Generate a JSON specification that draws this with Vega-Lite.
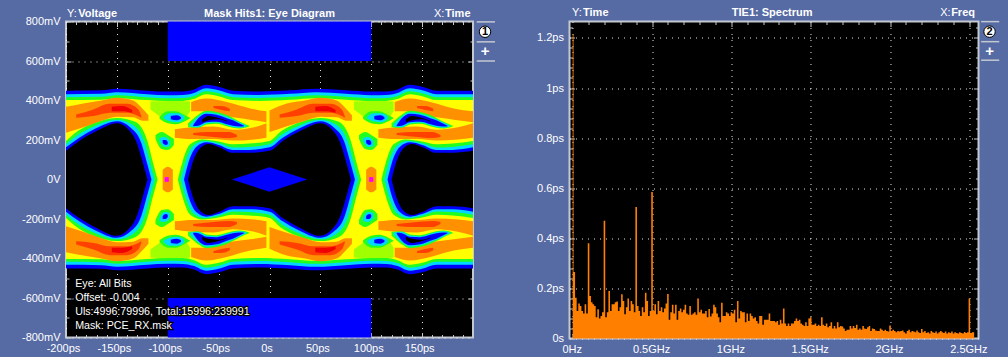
{"$schema":"https://vega.github.io/schema/vega-lite/v6.json","background":"#566aa4","padding":{"left":20,"top":5.5,"right":9,"bottom":2},"bounds":"flush","spacing":96.5,
"config":{"view":{"fill":"#000000","stroke":"#c4c8d0","strokeWidth":2},"font":"Liberation Sans","axis":{"labelColor":"#ffffff","labelFont":"Liberation Sans","labelFontSize":11,"title":null,"labelOverlap":false,"labelFlush":false,"domain":false,"tickColor":"#c4c8d0","zindex":1,"gridColor":"#ffffff","gridDash":[1,5],"gridOpacity":0.9}},
"datasets":{
"eye":[
{"s":1,"c":"B","t":-200,"a":-450,"b":450},{"s":1,"c":"B","t":-165,"a":-452,"b":452},{"s":1,"c":"B","t":-150,"a":-460,"b":460},{"s":1,"c":"B","t":-120,"a":-450,"b":450},{"s":1,"c":"B","t":-100,"a":-445,"b":445},{"s":1,"c":"B","t":-85,"a":-446,"b":446},{"s":1,"c":"B","t":-75,"a":-455,"b":455},{"s":1,"c":"B","t":-62,"a":-480,"b":480},{"s":1,"c":"B","t":-50,"a":-470,"b":470},{"s":1,"c":"B","t":-36,"a":-450,"b":450},{"s":1,"c":"B","t":-10,"a":-446,"b":446},{"s":1,"c":"B","t":20,"a":-452,"b":452},{"s":1,"c":"B","t":46,"a":-460,"b":460},{"s":1,"c":"B","t":75,"a":-452,"b":452},{"s":1,"c":"B","t":100,"a":-445,"b":445},{"s":1,"c":"B","t":115,"a":-446,"b":446},{"s":1,"c":"B","t":125,"a":-455,"b":455},{"s":1,"c":"B","t":138,"a":-480,"b":480},{"s":1,"c":"B","t":150,"a":-470,"b":470},{"s":1,"c":"B","t":164,"a":-450,"b":450},{"s":1,"c":"B","t":200,"a":-450,"b":450},
{"s":2,"c":"C","t":-200,"a":-432,"b":432},{"s":2,"c":"C","t":-165,"a":-434,"b":434},{"s":2,"c":"C","t":-150,"a":-442,"b":442},{"s":2,"c":"C","t":-120,"a":-432,"b":432},{"s":2,"c":"C","t":-100,"a":-427,"b":427},{"s":2,"c":"C","t":-85,"a":-428,"b":428},{"s":2,"c":"C","t":-75,"a":-437,"b":437},{"s":2,"c":"C","t":-62,"a":-462,"b":462},{"s":2,"c":"C","t":-50,"a":-452,"b":452},{"s":2,"c":"C","t":-36,"a":-432,"b":432},{"s":2,"c":"C","t":-10,"a":-428,"b":428},{"s":2,"c":"C","t":20,"a":-434,"b":434},{"s":2,"c":"C","t":46,"a":-442,"b":442},{"s":2,"c":"C","t":75,"a":-434,"b":434},{"s":2,"c":"C","t":100,"a":-427,"b":427},{"s":2,"c":"C","t":115,"a":-428,"b":428},{"s":2,"c":"C","t":125,"a":-437,"b":437},{"s":2,"c":"C","t":138,"a":-462,"b":462},{"s":2,"c":"C","t":150,"a":-452,"b":452},{"s":2,"c":"C","t":164,"a":-432,"b":432},{"s":2,"c":"C","t":200,"a":-432,"b":432},
{"s":3,"c":"G","t":-200,"a":-417,"b":417},{"s":3,"c":"G","t":-165,"a":-419,"b":419},{"s":3,"c":"G","t":-150,"a":-427,"b":427},{"s":3,"c":"G","t":-120,"a":-417,"b":417},{"s":3,"c":"G","t":-100,"a":-412,"b":412},{"s":3,"c":"G","t":-85,"a":-413,"b":413},{"s":3,"c":"G","t":-75,"a":-422,"b":422},{"s":3,"c":"G","t":-62,"a":-447,"b":447},{"s":3,"c":"G","t":-50,"a":-437,"b":437},{"s":3,"c":"G","t":-36,"a":-417,"b":417},{"s":3,"c":"G","t":-10,"a":-413,"b":413},{"s":3,"c":"G","t":20,"a":-419,"b":419},{"s":3,"c":"G","t":46,"a":-427,"b":427},{"s":3,"c":"G","t":75,"a":-419,"b":419},{"s":3,"c":"G","t":100,"a":-412,"b":412},{"s":3,"c":"G","t":115,"a":-413,"b":413},{"s":3,"c":"G","t":125,"a":-422,"b":422},{"s":3,"c":"G","t":138,"a":-447,"b":447},{"s":3,"c":"G","t":150,"a":-437,"b":437},{"s":3,"c":"G","t":164,"a":-417,"b":417},{"s":3,"c":"G","t":200,"a":-417,"b":417},
{"s":4,"c":"Y","t":-200,"a":-402,"b":402},{"s":4,"c":"Y","t":-165,"a":-404,"b":404},{"s":4,"c":"Y","t":-150,"a":-412,"b":412},{"s":4,"c":"Y","t":-120,"a":-402,"b":402},{"s":4,"c":"Y","t":-100,"a":-397,"b":397},{"s":4,"c":"Y","t":-85,"a":-398,"b":398},{"s":4,"c":"Y","t":-75,"a":-407,"b":407},{"s":4,"c":"Y","t":-62,"a":-432,"b":432},{"s":4,"c":"Y","t":-50,"a":-422,"b":422},{"s":4,"c":"Y","t":-36,"a":-402,"b":402},{"s":4,"c":"Y","t":-10,"a":-398,"b":398},{"s":4,"c":"Y","t":20,"a":-404,"b":404},{"s":4,"c":"Y","t":46,"a":-412,"b":412},{"s":4,"c":"Y","t":75,"a":-404,"b":404},{"s":4,"c":"Y","t":100,"a":-397,"b":397},{"s":4,"c":"Y","t":115,"a":-398,"b":398},{"s":4,"c":"Y","t":125,"a":-407,"b":407},{"s":4,"c":"Y","t":138,"a":-432,"b":432},{"s":4,"c":"Y","t":150,"a":-422,"b":422},{"s":4,"c":"Y","t":164,"a":-402,"b":402},{"s":4,"c":"Y","t":200,"a":-402,"b":402},
{"s":5,"c":"G","t":-200,"a":-195,"b":195},{"s":5,"c":"G","t":-189,"a":-243,"b":243},{"s":5,"c":"G","t":-173,"a":-285,"b":285},{"s":5,"c":"G","t":-150,"a":-312,"b":312},{"s":5,"c":"G","t":-132,"a":-292,"b":292},{"s":5,"c":"G","t":-120,"a":-195,"b":195},{"s":5,"c":"G","t":-115,"a":-95,"b":95},{"s":5,"c":"G","t":-110,"a":0,"b":0},
{"s":6,"c":"G","t":-90,"a":0,"b":0},{"s":6,"c":"G","t":-86,"a":-80,"b":80},{"s":6,"c":"G","t":-78,"a":-178,"b":178},{"s":6,"c":"G","t":-66,"a":-202,"b":202},{"s":6,"c":"G","t":-50,"a":-192,"b":192},{"s":6,"c":"G","t":-36,"a":-178,"b":178},{"s":6,"c":"G","t":-20,"a":-182,"b":182},{"s":6,"c":"G","t":0,"a":-195,"b":195},{"s":6,"c":"G","t":11,"a":-243,"b":243},{"s":6,"c":"G","t":27,"a":-285,"b":285},{"s":6,"c":"G","t":50,"a":-312,"b":312},{"s":6,"c":"G","t":68,"a":-292,"b":292},{"s":6,"c":"G","t":80,"a":-195,"b":195},{"s":6,"c":"G","t":85,"a":-95,"b":95},{"s":6,"c":"G","t":90,"a":0,"b":0},
{"s":7,"c":"G","t":110,"a":0,"b":0},{"s":7,"c":"G","t":114,"a":-80,"b":80},{"s":7,"c":"G","t":122,"a":-178,"b":178},{"s":7,"c":"G","t":134,"a":-202,"b":202},{"s":7,"c":"G","t":150,"a":-192,"b":192},{"s":7,"c":"G","t":164,"a":-178,"b":178},{"s":7,"c":"G","t":180,"a":-182,"b":182},{"s":7,"c":"G","t":200,"a":-195,"b":195},
{"s":8,"c":"C","t":-200,"a":-178,"b":178},{"s":8,"c":"C","t":-188,"a":-226,"b":226},{"s":8,"c":"C","t":-172,"a":-270,"b":270},{"s":8,"c":"C","t":-150,"a":-303,"b":303},{"s":8,"c":"C","t":-135,"a":-278,"b":278},{"s":8,"c":"C","t":-123,"a":-190,"b":190},{"s":8,"c":"C","t":-118,"a":-95,"b":95},{"s":8,"c":"C","t":-113,"a":0,"b":0},
{"s":9,"c":"C","t":-87,"a":0,"b":0},{"s":9,"c":"C","t":-83,"a":-80,"b":80},{"s":9,"c":"C","t":-75,"a":-170,"b":170},{"s":9,"c":"C","t":-64,"a":-195,"b":195},{"s":9,"c":"C","t":-50,"a":-183,"b":183},{"s":9,"c":"C","t":-36,"a":-162,"b":162},{"s":9,"c":"C","t":-20,"a":-165,"b":165},{"s":9,"c":"C","t":0,"a":-178,"b":178},{"s":9,"c":"C","t":12,"a":-226,"b":226},{"s":9,"c":"C","t":28,"a":-270,"b":270},{"s":9,"c":"C","t":50,"a":-303,"b":303},{"s":9,"c":"C","t":65,"a":-278,"b":278},{"s":9,"c":"C","t":77,"a":-190,"b":190},{"s":9,"c":"C","t":82,"a":-95,"b":95},{"s":9,"c":"C","t":87,"a":0,"b":0},
{"s":10,"c":"C","t":113,"a":0,"b":0},{"s":10,"c":"C","t":117,"a":-80,"b":80},{"s":10,"c":"C","t":125,"a":-170,"b":170},{"s":10,"c":"C","t":136,"a":-195,"b":195},{"s":10,"c":"C","t":150,"a":-183,"b":183},{"s":10,"c":"C","t":164,"a":-162,"b":162},{"s":10,"c":"C","t":180,"a":-165,"b":165},{"s":10,"c":"C","t":200,"a":-178,"b":178},
{"s":11,"c":"B","t":-200,"a":-163,"b":163},{"s":11,"c":"B","t":-187,"a":-212,"b":212},{"s":11,"c":"B","t":-171,"a":-258,"b":258},{"s":11,"c":"B","t":-150,"a":-295,"b":295},{"s":11,"c":"B","t":-137,"a":-265,"b":265},{"s":11,"c":"B","t":-126,"a":-185,"b":185},{"s":11,"c":"B","t":-121,"a":-95,"b":95},{"s":11,"c":"B","t":-116,"a":0,"b":0},
{"s":12,"c":"B","t":-84,"a":0,"b":0},{"s":12,"c":"B","t":-80,"a":-80,"b":80},{"s":12,"c":"B","t":-72,"a":-165,"b":165},{"s":12,"c":"B","t":-62,"a":-188,"b":188},{"s":12,"c":"B","t":-50,"a":-175,"b":175},{"s":12,"c":"B","t":-36,"a":-150,"b":150},{"s":12,"c":"B","t":-20,"a":-150,"b":150},{"s":12,"c":"B","t":0,"a":-163,"b":163},{"s":12,"c":"B","t":13,"a":-212,"b":212},{"s":12,"c":"B","t":29,"a":-258,"b":258},{"s":12,"c":"B","t":50,"a":-295,"b":295},{"s":12,"c":"B","t":63,"a":-265,"b":265},{"s":12,"c":"B","t":74,"a":-185,"b":185},{"s":12,"c":"B","t":79,"a":-95,"b":95},{"s":12,"c":"B","t":84,"a":0,"b":0},
{"s":13,"c":"B","t":116,"a":0,"b":0},{"s":13,"c":"B","t":120,"a":-80,"b":80},{"s":13,"c":"B","t":128,"a":-165,"b":165},{"s":13,"c":"B","t":138,"a":-188,"b":188},{"s":13,"c":"B","t":150,"a":-175,"b":175},{"s":13,"c":"B","t":164,"a":-150,"b":150},{"s":13,"c":"B","t":180,"a":-150,"b":150},{"s":13,"c":"B","t":200,"a":-163,"b":163},
{"s":14,"c":"K","t":-200,"a":-145,"b":145},{"s":14,"c":"K","t":-187,"a":-195,"b":195},{"s":14,"c":"K","t":-170,"a":-245,"b":245},{"s":14,"c":"K","t":-150,"a":-285,"b":285},{"s":14,"c":"K","t":-139,"a":-255,"b":255},{"s":14,"c":"K","t":-130,"a":-180,"b":180},{"s":14,"c":"K","t":-125,"a":-95,"b":95},{"s":14,"c":"K","t":-120,"a":0,"b":0},
{"s":15,"c":"K","t":-80,"a":0,"b":0},{"s":15,"c":"K","t":-76,"a":-78,"b":78},{"s":15,"c":"K","t":-68,"a":-160,"b":160},{"s":15,"c":"K","t":-60,"a":-180,"b":180},{"s":15,"c":"K","t":-50,"a":-165,"b":165},{"s":15,"c":"K","t":-36,"a":-135,"b":135},{"s":15,"c":"K","t":-20,"a":-135,"b":135},{"s":15,"c":"K","t":0,"a":-145,"b":145},{"s":15,"c":"K","t":13,"a":-195,"b":195},{"s":15,"c":"K","t":30,"a":-245,"b":245},{"s":15,"c":"K","t":50,"a":-285,"b":285},{"s":15,"c":"K","t":61,"a":-255,"b":255},{"s":15,"c":"K","t":70,"a":-180,"b":180},{"s":15,"c":"K","t":75,"a":-95,"b":95},{"s":15,"c":"K","t":80,"a":0,"b":0},
{"s":16,"c":"K","t":120,"a":0,"b":0},{"s":16,"c":"K","t":124,"a":-78,"b":78},{"s":16,"c":"K","t":132,"a":-160,"b":160},{"s":16,"c":"K","t":140,"a":-180,"b":180},{"s":16,"c":"K","t":150,"a":-165,"b":165},{"s":16,"c":"K","t":164,"a":-135,"b":135},{"s":16,"c":"K","t":180,"a":-135,"b":135},{"s":16,"c":"K","t":200,"a":-145,"b":145},
{"s":17,"c":"L","t":-117,"a":355,"b":395},{"s":17,"c":"L","t":-100,"a":300,"b":398},{"s":17,"c":"L","t":-88,"a":290,"b":398},{"s":17,"c":"L","t":-78,"a":345,"b":395},
{"s":18,"c":"L","t":-117,"a":-395,"b":-355},{"s":18,"c":"L","t":-100,"a":-398,"b":-300},{"s":18,"c":"L","t":-88,"a":-398,"b":-290},{"s":18,"c":"L","t":-78,"a":-395,"b":-345},
{"s":19,"c":"L","t":83,"a":355,"b":395},{"s":19,"c":"L","t":100,"a":300,"b":398},{"s":19,"c":"L","t":112,"a":290,"b":398},{"s":19,"c":"L","t":122,"a":345,"b":395},
{"s":20,"c":"L","t":83,"a":-395,"b":-355},{"s":20,"c":"L","t":100,"a":-398,"b":-300},{"s":20,"c":"L","t":112,"a":-398,"b":-290},{"s":20,"c":"L","t":122,"a":-395,"b":-345},
{"s":21,"c":"O","t":-200,"a":237,"b":368},{"s":21,"c":"O","t":-183,"a":265,"b":385},{"s":21,"c":"O","t":-165,"a":298,"b":400},{"s":21,"c":"O","t":-150,"a":318,"b":414},{"s":21,"c":"O","t":-134,"a":315,"b":400},{"s":21,"c":"O","t":-125,"a":298,"b":360},{"s":21,"c":"O","t":-119,"a":298,"b":325},
{"s":22,"c":"O","t":0,"a":240,"b":350},{"s":22,"c":"O","t":17,"a":270,"b":385},{"s":22,"c":"O","t":35,"a":298,"b":400},{"s":22,"c":"O","t":50,"a":318,"b":414},{"s":22,"c":"O","t":66,"a":315,"b":400},{"s":22,"c":"O","t":75,"a":298,"b":360},{"s":22,"c":"O","t":81,"a":298,"b":325},
{"s":23,"c":"O","t":-200,"a":-368,"b":-237},{"s":23,"c":"O","t":-183,"a":-385,"b":-265},{"s":23,"c":"O","t":-165,"a":-400,"b":-298},{"s":23,"c":"O","t":-150,"a":-414,"b":-318},{"s":23,"c":"O","t":-134,"a":-400,"b":-315},{"s":23,"c":"O","t":-125,"a":-360,"b":-298},{"s":23,"c":"O","t":-119,"a":-325,"b":-298},
{"s":24,"c":"O","t":0,"a":-350,"b":-240},{"s":24,"c":"O","t":17,"a":-385,"b":-270},{"s":24,"c":"O","t":35,"a":-400,"b":-298},{"s":24,"c":"O","t":50,"a":-414,"b":-318},{"s":24,"c":"O","t":66,"a":-400,"b":-315},{"s":24,"c":"O","t":75,"a":-360,"b":-298},{"s":24,"c":"O","t":81,"a":-325,"b":-298},
{"s":25,"c":"O","t":-77,"a":345,"b":392},{"s":25,"c":"O","t":-62,"a":345,"b":410},{"s":25,"c":"O","t":-42,"a":320,"b":392},{"s":25,"c":"O","t":-19,"a":303,"b":360},{"s":25,"c":"O","t":-3,"a":290,"b":345},
{"s":26,"c":"O","t":123,"a":345,"b":392},{"s":26,"c":"O","t":138,"a":345,"b":410},{"s":26,"c":"O","t":158,"a":320,"b":392},{"s":26,"c":"O","t":181,"a":303,"b":360},{"s":26,"c":"O","t":200,"a":290,"b":345},
{"s":27,"c":"O","t":-77,"a":-392,"b":-345},{"s":27,"c":"O","t":-62,"a":-410,"b":-345},{"s":27,"c":"O","t":-42,"a":-392,"b":-320},{"s":27,"c":"O","t":-19,"a":-360,"b":-303},{"s":27,"c":"O","t":-3,"a":-345,"b":-290},
{"s":28,"c":"O","t":123,"a":-392,"b":-345},{"s":28,"c":"O","t":138,"a":-410,"b":-345},{"s":28,"c":"O","t":158,"a":-392,"b":-320},{"s":28,"c":"O","t":181,"a":-360,"b":-303},{"s":28,"c":"O","t":200,"a":-345,"b":-290},
{"s":29,"c":"O","t":-93,"a":212,"b":255},{"s":29,"c":"O","t":-75,"a":205,"b":265},{"s":29,"c":"O","t":-55,"a":205,"b":268},{"s":29,"c":"O","t":-36,"a":197,"b":252},{"s":29,"c":"O","t":-15,"a":203,"b":265},{"s":29,"c":"O","t":-3,"a":212,"b":285},
{"s":30,"c":"O","t":107,"a":212,"b":255},{"s":30,"c":"O","t":125,"a":205,"b":265},{"s":30,"c":"O","t":145,"a":205,"b":268},{"s":30,"c":"O","t":164,"a":197,"b":252},{"s":30,"c":"O","t":185,"a":203,"b":265},{"s":30,"c":"O","t":200,"a":212,"b":285},
{"s":31,"c":"O","t":-93,"a":-255,"b":-212},{"s":31,"c":"O","t":-75,"a":-265,"b":-205},{"s":31,"c":"O","t":-55,"a":-268,"b":-205},{"s":31,"c":"O","t":-36,"a":-252,"b":-197},{"s":31,"c":"O","t":-15,"a":-265,"b":-203},{"s":31,"c":"O","t":-3,"a":-285,"b":-212},
{"s":32,"c":"O","t":107,"a":-255,"b":-212},{"s":32,"c":"O","t":125,"a":-265,"b":-205},{"s":32,"c":"O","t":145,"a":-268,"b":-205},{"s":32,"c":"O","t":164,"a":-252,"b":-197},{"s":32,"c":"O","t":185,"a":-265,"b":-203},{"s":32,"c":"O","t":200,"a":-285,"b":-212},
{"s":33,"c":"D","t":-190,"a":313,"b":329},{"s":33,"c":"D","t":-173,"a":321,"b":355},{"s":33,"c":"D","t":-157,"a":338,"b":383},{"s":33,"c":"D","t":-140,"a":338,"b":383},{"s":33,"c":"D","t":-129,"a":321,"b":355},{"s":33,"c":"D","t":-126,"a":313,"b":321},
{"s":34,"c":"D","t":10,"a":313,"b":329},{"s":34,"c":"D","t":27,"a":321,"b":355},{"s":34,"c":"D","t":43,"a":338,"b":383},{"s":34,"c":"D","t":60,"a":338,"b":383},{"s":34,"c":"D","t":71,"a":321,"b":355},{"s":34,"c":"D","t":74,"a":313,"b":321},
{"s":35,"c":"D","t":-190,"a":-329,"b":-313},{"s":35,"c":"D","t":-173,"a":-355,"b":-321},{"s":35,"c":"D","t":-157,"a":-383,"b":-338},{"s":35,"c":"D","t":-140,"a":-383,"b":-338},{"s":35,"c":"D","t":-129,"a":-355,"b":-321},{"s":35,"c":"D","t":-126,"a":-321,"b":-313},
{"s":36,"c":"D","t":10,"a":-329,"b":-313},{"s":36,"c":"D","t":27,"a":-355,"b":-321},{"s":36,"c":"D","t":43,"a":-383,"b":-338},{"s":36,"c":"D","t":60,"a":-383,"b":-338},{"s":36,"c":"D","t":71,"a":-355,"b":-321},{"s":36,"c":"D","t":74,"a":-321,"b":-313},
{"s":37,"c":"D","t":-75,"a":225,"b":235},{"s":37,"c":"D","t":-60,"a":218,"b":240},{"s":37,"c":"D","t":-40,"a":210,"b":240},{"s":37,"c":"D","t":-32,"a":215,"b":225},
{"s":38,"c":"D","t":125,"a":225,"b":235},{"s":38,"c":"D","t":140,"a":218,"b":240},{"s":38,"c":"D","t":160,"a":210,"b":240},{"s":38,"c":"D","t":168,"a":215,"b":225},
{"s":39,"c":"D","t":-75,"a":-235,"b":-225},{"s":39,"c":"D","t":-60,"a":-240,"b":-218},{"s":39,"c":"D","t":-40,"a":-240,"b":-210},{"s":39,"c":"D","t":-32,"a":-225,"b":-215},
{"s":40,"c":"D","t":125,"a":-235,"b":-225},{"s":40,"c":"D","t":140,"a":-240,"b":-218},{"s":40,"c":"D","t":160,"a":-240,"b":-210},{"s":40,"c":"D","t":168,"a":-225,"b":-215},
{"s":41,"c":"D","t":-55,"a":362,"b":372},{"s":41,"c":"D","t":-47,"a":352,"b":372},{"s":41,"c":"D","t":-39,"a":346,"b":358},
{"s":42,"c":"D","t":145,"a":362,"b":372},{"s":42,"c":"D","t":153,"a":352,"b":372},{"s":42,"c":"D","t":161,"a":346,"b":358},
{"s":43,"c":"D","t":-55,"a":-372,"b":-362},{"s":43,"c":"D","t":-47,"a":-372,"b":-352},{"s":43,"c":"D","t":-39,"a":-358,"b":-346},
{"s":44,"c":"D","t":145,"a":-372,"b":-362},{"s":44,"c":"D","t":153,"a":-372,"b":-352},{"s":44,"c":"D","t":161,"a":-358,"b":-346},
{"s":45,"c":"R","t":-155,"a":345,"b":368},{"s":45,"c":"R","t":-145,"a":345,"b":372},{"s":45,"c":"R","t":-135,"a":338,"b":352},
{"s":46,"c":"R","t":45,"a":345,"b":368},{"s":46,"c":"R","t":55,"a":345,"b":372},{"s":46,"c":"R","t":65,"a":338,"b":352},
{"s":47,"c":"R","t":-155,"a":-368,"b":-345},{"s":47,"c":"R","t":-145,"a":-372,"b":-345},{"s":47,"c":"R","t":-135,"a":-352,"b":-338},
{"s":48,"c":"R","t":45,"a":-368,"b":-345},{"s":48,"c":"R","t":55,"a":-372,"b":-345},{"s":48,"c":"R","t":65,"a":-352,"b":-338},
{"s":49,"c":"G","t":-80,"a":265,"b":285},{"s":49,"c":"G","t":-70,"a":262,"b":328},{"s":49,"c":"G","t":-62,"a":278,"b":348},{"s":49,"c":"G","t":-52,"a":282,"b":342},{"s":49,"c":"G","t":-42,"a":270,"b":326},{"s":49,"c":"G","t":-36,"a":262,"b":312},{"s":49,"c":"G","t":-29,"a":258,"b":292},{"s":49,"c":"G","t":-20,"a":268,"b":272},
{"s":50,"c":"C","t":-78,"a":268,"b":278},{"s":50,"c":"C","t":-70,"a":265,"b":318},{"s":50,"c":"C","t":-62,"a":284,"b":340},{"s":50,"c":"C","t":-52,"a":288,"b":334},{"s":50,"c":"C","t":-42,"a":275,"b":318},{"s":50,"c":"C","t":-36,"a":266,"b":305},{"s":50,"c":"C","t":-29,"a":262,"b":288},{"s":50,"c":"C","t":-23,"a":268,"b":274},
{"s":51,"c":"B","t":-75,"a":270,"b":275},{"s":51,"c":"B","t":-70,"a":272,"b":310},{"s":51,"c":"B","t":-62,"a":290,"b":333},{"s":51,"c":"B","t":-52,"a":292,"b":328},{"s":51,"c":"B","t":-42,"a":280,"b":310},{"s":51,"c":"B","t":-36,"a":272,"b":300},{"s":51,"c":"B","t":-29,"a":268,"b":282},{"s":51,"c":"B","t":-25,"a":270,"b":272},
{"s":52,"c":"K","t":-66,"a":288,"b":305},{"s":52,"c":"K","t":-60,"a":300,"b":322},{"s":52,"c":"K","t":-50,"a":305,"b":312},{"s":52,"c":"K","t":-42,"a":292,"b":298},
{"s":53,"c":"G","t":120,"a":265,"b":285},{"s":53,"c":"G","t":130,"a":262,"b":328},{"s":53,"c":"G","t":138,"a":278,"b":348},{"s":53,"c":"G","t":148,"a":282,"b":342},{"s":53,"c":"G","t":158,"a":270,"b":326},{"s":53,"c":"G","t":164,"a":262,"b":312},{"s":53,"c":"G","t":171,"a":258,"b":292},{"s":53,"c":"G","t":180,"a":268,"b":272},
{"s":54,"c":"C","t":122,"a":268,"b":278},{"s":54,"c":"C","t":130,"a":265,"b":318},{"s":54,"c":"C","t":138,"a":284,"b":340},{"s":54,"c":"C","t":148,"a":288,"b":334},{"s":54,"c":"C","t":158,"a":275,"b":318},{"s":54,"c":"C","t":164,"a":266,"b":305},{"s":54,"c":"C","t":171,"a":262,"b":288},{"s":54,"c":"C","t":177,"a":268,"b":274},
{"s":55,"c":"B","t":125,"a":270,"b":275},{"s":55,"c":"B","t":130,"a":272,"b":310},{"s":55,"c":"B","t":138,"a":290,"b":333},{"s":55,"c":"B","t":148,"a":292,"b":328},{"s":55,"c":"B","t":158,"a":280,"b":310},{"s":55,"c":"B","t":164,"a":272,"b":300},{"s":55,"c":"B","t":171,"a":268,"b":282},{"s":55,"c":"B","t":175,"a":270,"b":272},
{"s":56,"c":"K","t":134,"a":288,"b":305},{"s":56,"c":"K","t":140,"a":300,"b":322},{"s":56,"c":"K","t":150,"a":305,"b":312},{"s":56,"c":"K","t":158,"a":292,"b":298},
{"s":57,"c":"G","t":-80,"a":-285,"b":-265},{"s":57,"c":"G","t":-70,"a":-328,"b":-262},{"s":57,"c":"G","t":-62,"a":-348,"b":-278},{"s":57,"c":"G","t":-52,"a":-342,"b":-282},{"s":57,"c":"G","t":-42,"a":-326,"b":-270},{"s":57,"c":"G","t":-36,"a":-312,"b":-262},{"s":57,"c":"G","t":-29,"a":-292,"b":-258},{"s":57,"c":"G","t":-20,"a":-272,"b":-268},
{"s":58,"c":"C","t":-78,"a":-278,"b":-268},{"s":58,"c":"C","t":-70,"a":-318,"b":-265},{"s":58,"c":"C","t":-62,"a":-340,"b":-284},{"s":58,"c":"C","t":-52,"a":-334,"b":-288},{"s":58,"c":"C","t":-42,"a":-318,"b":-275},{"s":58,"c":"C","t":-36,"a":-305,"b":-266},{"s":58,"c":"C","t":-29,"a":-288,"b":-262},{"s":58,"c":"C","t":-23,"a":-274,"b":-268},
{"s":59,"c":"B","t":-75,"a":-275,"b":-270},{"s":59,"c":"B","t":-70,"a":-310,"b":-272},{"s":59,"c":"B","t":-62,"a":-333,"b":-290},{"s":59,"c":"B","t":-52,"a":-328,"b":-292},{"s":59,"c":"B","t":-42,"a":-310,"b":-280},{"s":59,"c":"B","t":-36,"a":-300,"b":-272},{"s":59,"c":"B","t":-29,"a":-282,"b":-268},{"s":59,"c":"B","t":-25,"a":-272,"b":-270},
{"s":60,"c":"K","t":-66,"a":-305,"b":-288},{"s":60,"c":"K","t":-60,"a":-322,"b":-300},{"s":60,"c":"K","t":-50,"a":-312,"b":-305},{"s":60,"c":"K","t":-42,"a":-298,"b":-292},
{"s":61,"c":"G","t":120,"a":-285,"b":-265},{"s":61,"c":"G","t":130,"a":-328,"b":-262},{"s":61,"c":"G","t":138,"a":-348,"b":-278},{"s":61,"c":"G","t":148,"a":-342,"b":-282},{"s":61,"c":"G","t":158,"a":-326,"b":-270},{"s":61,"c":"G","t":164,"a":-312,"b":-262},{"s":61,"c":"G","t":171,"a":-292,"b":-258},{"s":61,"c":"G","t":180,"a":-272,"b":-268},
{"s":62,"c":"C","t":122,"a":-278,"b":-268},{"s":62,"c":"C","t":130,"a":-318,"b":-265},{"s":62,"c":"C","t":138,"a":-340,"b":-284},{"s":62,"c":"C","t":148,"a":-334,"b":-288},{"s":62,"c":"C","t":158,"a":-318,"b":-275},{"s":62,"c":"C","t":164,"a":-305,"b":-266},{"s":62,"c":"C","t":171,"a":-288,"b":-262},{"s":62,"c":"C","t":177,"a":-274,"b":-268},
{"s":63,"c":"B","t":125,"a":-275,"b":-270},{"s":63,"c":"B","t":130,"a":-310,"b":-272},{"s":63,"c":"B","t":138,"a":-333,"b":-290},{"s":63,"c":"B","t":148,"a":-328,"b":-292},{"s":63,"c":"B","t":158,"a":-310,"b":-280},{"s":63,"c":"B","t":164,"a":-300,"b":-272},{"s":63,"c":"B","t":171,"a":-282,"b":-268},{"s":63,"c":"B","t":175,"a":-272,"b":-270},
{"s":64,"c":"K","t":134,"a":-305,"b":-288},{"s":64,"c":"K","t":140,"a":-322,"b":-300},{"s":64,"c":"K","t":150,"a":-312,"b":-305},{"s":64,"c":"K","t":158,"a":-298,"b":-292},
{"s":65,"c":"G","t":-108,"a":308,"b":318},{"s":65,"c":"G","t":-100,"a":285,"b":345},{"s":65,"c":"G","t":-92,"a":280,"b":345},{"s":65,"c":"G","t":-83,"a":295,"b":325},{"s":65,"c":"G","t":-78,"a":310,"b":312},
{"s":66,"c":"C","t":-104,"a":310,"b":316},{"s":66,"c":"C","t":-98,"a":295,"b":335},{"s":66,"c":"C","t":-90,"a":290,"b":335},{"s":66,"c":"C","t":-84,"a":305,"b":320},
{"s":67,"c":"B","t":-97,"a":305,"b":322},{"s":67,"c":"B","t":-91,"a":300,"b":325},{"s":67,"c":"B","t":-87,"a":308,"b":315},
{"s":68,"c":"G","t":-112,"a":205,"b":225},{"s":68,"c":"G","t":-106,"a":155,"b":240},{"s":68,"c":"G","t":-100,"a":150,"b":225},{"s":68,"c":"G","t":-94,"a":175,"b":205},
{"s":69,"c":"C","t":-108,"a":195,"b":210},{"s":69,"c":"C","t":-103,"a":165,"b":215},{"s":69,"c":"C","t":-98,"a":170,"b":195},
{"s":70,"c":"B","t":-105,"a":185,"b":200},{"s":70,"c":"B","t":-102,"a":175,"b":200},{"s":70,"c":"B","t":-100,"a":178,"b":190},
{"s":71,"c":"G","t":92,"a":308,"b":318},{"s":71,"c":"G","t":100,"a":285,"b":345},{"s":71,"c":"G","t":108,"a":280,"b":345},{"s":71,"c":"G","t":117,"a":295,"b":325},{"s":71,"c":"G","t":122,"a":310,"b":312},
{"s":72,"c":"C","t":96,"a":310,"b":316},{"s":72,"c":"C","t":102,"a":295,"b":335},{"s":72,"c":"C","t":110,"a":290,"b":335},{"s":72,"c":"C","t":116,"a":305,"b":320},
{"s":73,"c":"B","t":103,"a":305,"b":322},{"s":73,"c":"B","t":109,"a":300,"b":325},{"s":73,"c":"B","t":113,"a":308,"b":315},
{"s":74,"c":"G","t":88,"a":205,"b":225},{"s":74,"c":"G","t":94,"a":155,"b":240},{"s":74,"c":"G","t":100,"a":150,"b":225},{"s":74,"c":"G","t":106,"a":175,"b":205},
{"s":75,"c":"C","t":92,"a":195,"b":210},{"s":75,"c":"C","t":97,"a":165,"b":215},{"s":75,"c":"C","t":102,"a":170,"b":195},
{"s":76,"c":"B","t":95,"a":185,"b":200},{"s":76,"c":"B","t":98,"a":175,"b":200},{"s":76,"c":"B","t":100,"a":178,"b":190},
{"s":77,"c":"G","t":-108,"a":-318,"b":-308},{"s":77,"c":"G","t":-100,"a":-345,"b":-285},{"s":77,"c":"G","t":-92,"a":-345,"b":-280},{"s":77,"c":"G","t":-83,"a":-325,"b":-295},{"s":77,"c":"G","t":-78,"a":-312,"b":-310},
{"s":78,"c":"C","t":-104,"a":-316,"b":-310},{"s":78,"c":"C","t":-98,"a":-335,"b":-295},{"s":78,"c":"C","t":-90,"a":-335,"b":-290},{"s":78,"c":"C","t":-84,"a":-320,"b":-305},
{"s":79,"c":"B","t":-97,"a":-322,"b":-305},{"s":79,"c":"B","t":-91,"a":-325,"b":-300},{"s":79,"c":"B","t":-87,"a":-315,"b":-308},
{"s":80,"c":"G","t":-112,"a":-225,"b":-205},{"s":80,"c":"G","t":-106,"a":-240,"b":-155},{"s":80,"c":"G","t":-100,"a":-225,"b":-150},{"s":80,"c":"G","t":-94,"a":-205,"b":-175},
{"s":81,"c":"C","t":-108,"a":-210,"b":-195},{"s":81,"c":"C","t":-103,"a":-215,"b":-165},{"s":81,"c":"C","t":-98,"a":-195,"b":-170},
{"s":82,"c":"B","t":-105,"a":-200,"b":-185},{"s":82,"c":"B","t":-102,"a":-200,"b":-175},{"s":82,"c":"B","t":-100,"a":-190,"b":-178},
{"s":83,"c":"G","t":92,"a":-318,"b":-308},{"s":83,"c":"G","t":100,"a":-345,"b":-285},{"s":83,"c":"G","t":108,"a":-345,"b":-280},{"s":83,"c":"G","t":117,"a":-325,"b":-295},{"s":83,"c":"G","t":122,"a":-312,"b":-310},
{"s":84,"c":"C","t":96,"a":-316,"b":-310},{"s":84,"c":"C","t":102,"a":-335,"b":-295},{"s":84,"c":"C","t":110,"a":-335,"b":-290},{"s":84,"c":"C","t":116,"a":-320,"b":-305},
{"s":85,"c":"B","t":103,"a":-322,"b":-305},{"s":85,"c":"B","t":109,"a":-325,"b":-300},{"s":85,"c":"B","t":113,"a":-315,"b":-308},
{"s":86,"c":"G","t":88,"a":-225,"b":-205},{"s":86,"c":"G","t":94,"a":-240,"b":-155},{"s":86,"c":"G","t":100,"a":-225,"b":-150},{"s":86,"c":"G","t":106,"a":-205,"b":-175},
{"s":87,"c":"C","t":92,"a":-210,"b":-195},{"s":87,"c":"C","t":97,"a":-215,"b":-165},{"s":87,"c":"C","t":102,"a":-195,"b":-170},
{"s":88,"c":"B","t":95,"a":-200,"b":-185},{"s":88,"c":"B","t":98,"a":-200,"b":-175},{"s":88,"c":"B","t":100,"a":-190,"b":-178},
{"s":89,"c":"O","t":-105,"a":-50,"b":50},{"s":89,"c":"O","t":-100,"a":-65,"b":65},{"s":89,"c":"O","t":-95,"a":-50,"b":50},
{"s":90,"c":"O","t":95,"a":-50,"b":50},{"s":90,"c":"O","t":100,"a":-65,"b":65},{"s":90,"c":"O","t":105,"a":-50,"b":50},
{"s":91,"c":"M","t":-103,"a":-12,"b":12},{"s":91,"c":"M","t":-99,"a":-12,"b":12},
{"s":92,"c":"M","t":98,"a":-12,"b":12},{"s":92,"c":"M","t":102,"a":-12,"b":12}
],
"mask":[{"s":"top","t":-100,"a":600,"b":800},{"s":"top","t":100,"a":600,"b":800},{"s":"bottom","t":-100,"a":-800,"b":-600},{"s":"bottom","t":100,"a":-800,"b":-600},{"s":"mid","t":-37,"a":0,"b":0},{"s":"mid","t":0,"a":-62,"b":62},{"s":"mid","t":37,"a":0,"b":0}],
"info":[{"l":"Eye: All Bits","t":-191,"v":-529},{"l":"Offset: -0.004","t":-191,"v":-600},{"l":"Uls:4996:79996, Total:15996:239991","t":-191,"v":-671},{"l":"Mask: PCE_RX.msk","t":-191,"v":-741}],
"spec":[
{"f":0,"v":1.215},{"f":0.01,"v":0.265},{"f":0.02,"v":0.163},{"f":0.03,"v":0.11},{"f":0.04,"v":0.14},{"f":0.05,"v":0.13},{"f":0.06,"v":0.11},{"f":0.07,"v":0.1},{"f":0.08,"v":0.137},{"f":0.09,"v":0.1},
{"f":0.1,"v":0.38},{"f":0.11,"v":0.17},{"f":0.12,"v":0.145},{"f":0.13,"v":0.137},{"f":0.14,"v":0.13},{"f":0.15,"v":0.085},{"f":0.16,"v":0.117},{"f":0.17,"v":0.08},{"f":0.18,"v":0.09},{"f":0.19,"v":0.105},
{"f":0.2,"v":0.47},{"f":0.21,"v":0.085},{"f":0.22,"v":0.105},{"f":0.23,"v":0.19},{"f":0.24,"v":0.11},{"f":0.25,"v":0.137},{"f":0.26,"v":0.137},{"f":0.27,"v":0.145},{"f":0.28,"v":0.148},{"f":0.29,"v":0.11},
{"f":0.3,"v":0.125},{"f":0.31,"v":0.177},{"f":0.32,"v":0.15},{"f":0.33,"v":0.097},{"f":0.34,"v":0.125},{"f":0.35,"v":0.16},{"f":0.36,"v":0.11},{"f":0.37,"v":0.15},{"f":0.38,"v":0.137},{"f":0.39,"v":0.105},
{"f":0.4,"v":0.525},{"f":0.41,"v":0.13},{"f":0.42,"v":0.11},{"f":0.43,"v":0.09},{"f":0.44,"v":0.125},{"f":0.45,"v":0.105},{"f":0.46,"v":0.183},{"f":0.47,"v":0.15},{"f":0.48,"v":0.09},{"f":0.49,"v":0.11},
{"f":0.5,"v":0.585},{"f":0.51,"v":0.11},{"f":0.52,"v":0.137},{"f":0.53,"v":0.097},{"f":0.54,"v":0.15},{"f":0.55,"v":0.11},{"f":0.56,"v":0.125},{"f":0.57,"v":0.105},{"f":0.58,"v":0.12},{"f":0.59,"v":0.14},
{"f":0.6,"v":0.178},{"f":0.61,"v":0.075},{"f":0.62,"v":0.105},{"f":0.63,"v":0.135},{"f":0.64,"v":0.1},{"f":0.65,"v":0.135},{"f":0.66,"v":0.075},{"f":0.67,"v":0.11},{"f":0.68,"v":0.12},{"f":0.69,"v":0.105},
{"f":0.7,"v":0.115},{"f":0.71,"v":0.135},{"f":0.72,"v":0.1},{"f":0.73,"v":0.095},{"f":0.74,"v":0.13},{"f":0.75,"v":0.095},{"f":0.76,"v":0.1},{"f":0.77,"v":0.105},{"f":0.78,"v":0.095},{"f":0.79,"v":0.16},
{"f":0.8,"v":0.105},{"f":0.81,"v":0.115},{"f":0.82,"v":0.1},{"f":0.83,"v":0.1},{"f":0.84,"v":0.11},{"f":0.85,"v":0.085},{"f":0.86,"v":0.118},{"f":0.87,"v":0.088},{"f":0.88,"v":0.1},{"f":0.89,"v":0.135},
{"f":0.9,"v":0.125},{"f":0.91,"v":0.1},{"f":0.92,"v":0.085},{"f":0.93,"v":0.065},{"f":0.94,"v":0.143},{"f":0.95,"v":0.09},{"f":0.96,"v":0.09},{"f":0.97,"v":0.105},{"f":0.98,"v":0.1},{"f":0.99,"v":0.09},
{"f":1,"v":0.105},{"f":1.01,"v":0.1},{"f":1.02,"v":0.115},{"f":1.03,"v":0.065},{"f":1.04,"v":0.15},{"f":1.05,"v":0.08},{"f":1.06,"v":0.11},{"f":1.07,"v":0.105},{"f":1.08,"v":0.105},{"f":1.09,"v":0.065},
{"f":1.1,"v":0.1},{"f":1.11,"v":0.07},{"f":1.12,"v":0.1},{"f":1.13,"v":0.09},{"f":1.14,"v":0.08},{"f":1.15,"v":0.085},{"f":1.16,"v":0.07},{"f":1.17,"v":0.06},{"f":1.18,"v":0.09},{"f":1.19,"v":0.09},
{"f":1.2,"v":0.055},{"f":1.21,"v":0.075},{"f":1.22,"v":0.075},{"f":1.23,"v":0.075},{"f":1.24,"v":0.1},{"f":1.25,"v":0.07},{"f":1.26,"v":0.07},{"f":1.27,"v":0.07},{"f":1.28,"v":0.065},{"f":1.29,"v":0.07},
{"f":1.3,"v":0.055},{"f":1.31,"v":0.075},{"f":1.32,"v":0.06},{"f":1.33,"v":0.12},{"f":1.34,"v":0.06},{"f":1.35,"v":0.05},{"f":1.36,"v":0.06},{"f":1.37,"v":0.05},{"f":1.38,"v":0.06},{"f":1.39,"v":0.06},
{"f":1.4,"v":0.07},{"f":1.41,"v":0.08},{"f":1.42,"v":0.07},{"f":1.43,"v":0.075},{"f":1.44,"v":0.06},{"f":1.45,"v":0.055},{"f":1.46,"v":0.05},{"f":1.47,"v":0.065},{"f":1.48,"v":0.05},{"f":1.49,"v":0.08},
{"f":1.5,"v":0.085},{"f":1.51,"v":0.055},{"f":1.52,"v":0.055},{"f":1.53,"v":0.06},{"f":1.54,"v":0.05},{"f":1.55,"v":0.055},{"f":1.56,"v":0.05},{"f":1.57,"v":0.085},{"f":1.58,"v":0.055},{"f":1.59,"v":0.05},
{"f":1.6,"v":0.06},{"f":1.61,"v":0.045},{"f":1.62,"v":0.05},{"f":1.63,"v":0.065},{"f":1.64,"v":0.04},{"f":1.65,"v":0.05},{"f":1.66,"v":0.04},{"f":1.67,"v":0.065},{"f":1.68,"v":0.045},{"f":1.69,"v":0.05},
{"f":1.7,"v":0.048},{"f":1.71,"v":0.04},{"f":1.72,"v":0.03},{"f":1.73,"v":0.035},{"f":1.74,"v":0.035},{"f":1.75,"v":0.05},{"f":1.76,"v":0.04},{"f":1.77,"v":0.05},{"f":1.78,"v":0.042},{"f":1.79,"v":0.055},
{"f":1.8,"v":0.035},{"f":1.81,"v":0.04},{"f":1.82,"v":0.035},{"f":1.83,"v":0.05},{"f":1.84,"v":0.04},{"f":1.85,"v":0.038},{"f":1.86,"v":0.045},{"f":1.87,"v":0.05},{"f":1.88,"v":0.03},{"f":1.89,"v":0.04},
{"f":1.9,"v":0.038},{"f":1.91,"v":0.032},{"f":1.92,"v":0.03},{"f":1.93,"v":0.03},{"f":1.94,"v":0.04},{"f":1.95,"v":0.035},{"f":1.96,"v":0.03},{"f":1.97,"v":0.035},{"f":1.98,"v":0.03},{"f":1.99,"v":0.028},
{"f":2,"v":0.052},{"f":2.01,"v":0.03},{"f":2.02,"v":0.035},{"f":2.03,"v":0.03},{"f":2.04,"v":0.025},{"f":2.05,"v":0.03},{"f":2.06,"v":0.028},{"f":2.07,"v":0.03},{"f":2.08,"v":0.032},{"f":2.09,"v":0.025},
{"f":2.1,"v":0.02},{"f":2.11,"v":0.03},{"f":2.12,"v":0.035},{"f":2.13,"v":0.025},{"f":2.14,"v":0.03},{"f":2.15,"v":0.028},{"f":2.16,"v":0.025},{"f":2.17,"v":0.032},{"f":2.18,"v":0.025},{"f":2.19,"v":0.022},
{"f":2.2,"v":0.038},{"f":2.21,"v":0.025},{"f":2.22,"v":0.03},{"f":2.23,"v":0.022},{"f":2.24,"v":0.025},{"f":2.25,"v":0.02},{"f":2.26,"v":0.03},{"f":2.27,"v":0.025},{"f":2.28,"v":0.022},{"f":2.29,"v":0.028},
{"f":2.3,"v":0.02},{"f":2.31,"v":0.025},{"f":2.32,"v":0.03},{"f":2.33,"v":0.025},{"f":2.34,"v":0.022},{"f":2.35,"v":0.028},{"f":2.36,"v":0.02},{"f":2.37,"v":0.025},{"f":2.38,"v":0.022},{"f":2.39,"v":0.028},
{"f":2.4,"v":0.02},{"f":2.41,"v":0.025},{"f":2.42,"v":0.022},{"f":2.43,"v":0.02},{"f":2.44,"v":0.025},{"f":2.45,"v":0.022},{"f":2.46,"v":0.02},{"f":2.47,"v":0.026},{"f":2.48,"v":0.022},{"f":2.49,"v":0.025},
{"f":2.5,"v":0.16},{"f":2.51,"v":0.022},{"f":2.52,"v":0.025},{"f":2.53,"v":0.025}
]},
"hconcat":[
{"width":407,"height":316,
"resolve":{"axis":{"x":"independent","y":"independent"}},
"layer":[
{"data":{"name":"eye"},"mark":{"type":"area","interpolate":"monotone","stroke":null},
"encoding":{"x":{"field":"t","type":"quantitative","scale":{"domain":[-200,200],"nice":false,"zero":false},"axis":{"orient":"bottom","values":[-200,-150,-100,-50,0,50,100,150],"labelExpr":"datum.value==0?'0s':datum.value+'ps'","tickSize":-5,"grid":true,"labelPadding":10,"labelOffset":-3}},
"y":{"field":"a","type":"quantitative","scale":{"domain":[-800,800],"nice":false,"zero":false},"axis":{"orient":"left","values":[-800,-600,-400,-200,0,200,400,600,800],"labelExpr":"datum.value==0?'0V':datum.value+'mV'","tickSize":-5,"grid":true,"labelPadding":11}},
"y2":{"field":"b"},"detail":{"field":"s"},"color":{"field":"c","type":"nominal","legend":null,"scale":{"domain":["B","C","G","L","Y","O","D","R","K","M"],"range":["#0000ff","#00d8ff","#20ff20","#a0ff00","#ffff00","#ff9000","#ff4000","#f00000","#000000","#ff00ff"]}}}},
{"data":{"name":"mask"},"mark":{"type":"area","interpolate":"linear","color":"#0000ff"},
"encoding":{"x":{"field":"t","type":"quantitative","axis":{"orient":"top","values":[-190,-180,-170,-160,-140,-130,-120,-110,-90,-80,-70,-60,-40,-30,-20,-10,10,20,30,40,60,70,80,90,110,120,130,140,160,170,180,190],"labels":false,"tickSize":-3}},"y":{"field":"a","type":"quantitative","axis":{"orient":"right","values":[-700,-500,-300,-100,100,300,500,700],"labels":false,"tickSize":-3}},"y2":{"field":"b"},"detail":{"field":"s"}}},
{"data":{"name":"info"},"mark":{"type":"text","align":"left","baseline":"middle","fontSize":10.7,"font":"Liberation Sans","color":"#000000","stroke":"#000000","strokeWidth":2.5},
"encoding":{"x":{"field":"t","type":"quantitative","axis":{"orient":"bottom","values":[-190,-180,-170,-160,-140,-130,-120,-110,-90,-80,-70,-60,-40,-30,-20,-10,10,20,30,40,60,70,80,90,110,120,130,140,160,170,180,190],"labels":false,"tickSize":-3}},"y":{"field":"v","type":"quantitative","axis":{"orient":"left","values":[-700,-500,-300,-100,100,300,500,700],"labels":false,"tickSize":-3}},"text":{"field":"l"}}},
{"data":{"name":"info"},"mark":{"type":"text","align":"left","baseline":"middle","fontSize":10.7,"font":"Liberation Sans","color":"#ffffff"},
"encoding":{"x":{"field":"t","type":"quantitative","axis":{"orient":"top","values":[-150,-100,-50,0,50,100,150],"labels":false,"tickSize":-5}},"y":{"field":"v","type":"quantitative","axis":{"orient":"right","values":[-600,-400,-200,0,200,400,600],"labels":false,"tickSize":-5}},"text":{"field":"l"}}},
{"data":{"values":[{"l":"Y:","t":-199,"v":840},{"l":"X:","t":161.7,"v":840}]},"mark":{"type":"text","align":"left","baseline":"middle","fontSize":11,"font":"Liberation Sans","color":"#ffffff"},
"encoding":{"x":{"field":"t","type":"quantitative","axis":null},"y":{"field":"v","type":"quantitative","axis":null},"text":{"field":"l"}}},
{"data":{"values":[{"l":"Voltage","t":-188,"v":840},{"l":"Time","t":172.5,"v":840}]},"mark":{"type":"text","align":"left","baseline":"middle","fontSize":11,"fontWeight":"bold","font":"Liberation Sans","color":"#ffffff"},
"encoding":{"x":{"field":"t","type":"quantitative","axis":null},"y":{"field":"v","type":"quantitative","axis":null},"text":{"field":"l"}}},
{"data":{"values":[{"l":"Mask Hits1: Eye Diagram","t":0,"v":840}]},"mark":{"type":"text","align":"center","baseline":"middle","fontSize":11,"fontWeight":"bold","font":"Liberation Sans","color":"#ffffff"},
"encoding":{"x":{"field":"t","type":"quantitative","axis":null},"y":{"field":"v","type":"quantitative","axis":null},"text":{"field":"l"}}},
{"data":{"values":[{"v":798,"t":203.6,"e":221.6},{"v":697,"t":203.6,"e":221.6},{"v":600,"t":203.6,"e":221.6}]},"mark":{"type":"rule","color":"#c4c8d0","strokeWidth":1.5},
"encoding":{"x":{"field":"t","type":"quantitative","axis":null},"x2":{"field":"e"},"y":{"field":"v","type":"quantitative","axis":null}}},
{"data":{"values":[{"t":211.8,"v":748}]},"mark":{"type":"point","filled":true,"fill":"#ffffff","stroke":"#000000","strokeWidth":1,"opacity":1,"size":130},
"encoding":{"x":{"field":"t","type":"quantitative","axis":null},"y":{"field":"v","type":"quantitative","axis":null}}},
{"data":{"values":[{"l":"1","t":211.8,"v":748}]},"mark":{"type":"text","align":"center","baseline":"middle","fontSize":11,"fontWeight":"bold","font":"Liberation Sans","color":"#000000"},
"encoding":{"x":{"field":"t","type":"quantitative","axis":null},"y":{"field":"v","type":"quantitative","axis":null},"text":{"field":"l"}}},
{"data":{"values":[{"l":"+","t":211.8,"v":650}]},"mark":{"type":"text","align":"center","baseline":"middle","fontSize":15,"fontWeight":"bold","font":"Liberation Sans","color":"#ffffff"},
"encoding":{"x":{"field":"t","type":"quantitative","axis":null},"y":{"field":"v","type":"quantitative","axis":null},"text":{"field":"l"}}}
]},
{"width":409,"height":317,
"resolve":{"axis":{"x":"independent","y":"independent"}},
"layer":[
{"data":{"name":"spec"},"mark":{"type":"area","interpolate":"step","color":"#ff8000"},
"encoding":{"x":{"field":"f","type":"quantitative","scale":{"domain":[-0.0202,2.5574],"nice":false,"zero":false},"axis":{"orient":"bottom","values":[0,0.5,1,1.5,2,2.5],"labelExpr":"datum.value==0?'0Hz':datum.value+'GHz'","tickSize":-5,"grid":true,"labelPadding":10,"labelOffset":-1}},
"y":{"field":"v","type":"quantitative","stack":null,"scale":{"domain":[0,1.2655],"nice":false,"zero":false},"axis":{"orient":"left","values":[0,0.2,0.4,0.6,0.8,1,1.2],"labelExpr":"datum.value==0?'0s':datum.value+'ps'","tickSize":-5,"grid":true,"labelPadding":11}}}},
{"data":{"values":[{"l":"Y:","t":-0.004,"v":1.298},{"l":"X:","t":2.316,"v":1.298}]},"mark":{"type":"text","align":"left","baseline":"middle","fontSize":11,"font":"Liberation Sans","color":"#ffffff"},
"encoding":{"x":{"field":"t","type":"quantitative","axis":{"orient":"top","values":[0.1,0.2,0.3,0.4,0.6,0.7,0.8,0.9,1.1,1.2,1.3,1.4,1.6,1.7,1.8,1.9,2.1,2.2,2.3,2.4],"labels":false,"tickSize":-3}},"y":{"field":"v","type":"quantitative","axis":{"orient":"right","values":[0.04,0.08,0.12,0.16,0.24,0.28,0.32,0.36,0.44,0.48,0.52,0.56,0.64,0.68,0.72,0.76,0.84,0.88,0.92,0.96,1.04,1.08,1.12,1.16,1.24],"labels":false,"tickSize":-3}},"text":{"field":"l"}}},
{"data":{"values":[{"l":"Time","t":0.065,"v":1.298},{"l":"Freq","t":2.385,"v":1.298}]},"mark":{"type":"text","align":"left","baseline":"middle","fontSize":11,"fontWeight":"bold","font":"Liberation Sans","color":"#ffffff"},
"encoding":{"x":{"field":"t","type":"quantitative","axis":{"orient":"bottom","values":[0.1,0.2,0.3,0.4,0.6,0.7,0.8,0.9,1.1,1.2,1.3,1.4,1.6,1.7,1.8,1.9,2.1,2.2,2.3,2.4],"labels":false,"tickSize":-3}},"y":{"field":"v","type":"quantitative","axis":{"orient":"left","values":[0.04,0.08,0.12,0.16,0.24,0.28,0.32,0.36,0.44,0.48,0.52,0.56,0.64,0.68,0.72,0.76,0.84,0.88,0.92,0.96,1.04,1.08,1.12,1.16,1.24],"labels":false,"tickSize":-3}},"text":{"field":"l"}}},
{"data":{"values":[{"l":"TIE1: Spectrum","t":1.257,"v":1.298}]},"mark":{"type":"text","align":"center","baseline":"middle","fontSize":11,"fontWeight":"bold","font":"Liberation Sans","color":"#ffffff"},
"encoding":{"x":{"field":"t","type":"quantitative","axis":null},"y":{"field":"v","type":"quantitative","axis":null},"text":{"field":"l"}}},
{"data":{"values":[{"v":1.265,"t":2.574,"e":2.688},{"v":1.185,"t":2.574,"e":2.688},{"v":1.111,"t":2.574,"e":2.688}]},"mark":{"type":"rule","color":"#c4c8d0","strokeWidth":1.5},
"encoding":{"x":{"field":"t","type":"quantitative","axis":{"orient":"top","values":[0.5,1,1.5,2,2.5],"labels":false,"tickSize":-5}},"x2":{"field":"e"},"y":{"field":"v","type":"quantitative","axis":{"orient":"right","values":[0.2,0.4,0.6,0.8,1,1.2],"labels":false,"tickSize":-5}}}},
{"data":{"values":[{"t":2.627,"v":1.225}]},"mark":{"type":"point","filled":true,"fill":"#ffffff","stroke":"#000000","strokeWidth":1,"opacity":1,"size":130},
"encoding":{"x":{"field":"t","type":"quantitative","axis":null},"y":{"field":"v","type":"quantitative","axis":null}}},
{"data":{"values":[{"l":"2","t":2.627,"v":1.225}]},"mark":{"type":"text","align":"center","baseline":"middle","fontSize":11,"fontWeight":"bold","font":"Liberation Sans","color":"#000000"},
"encoding":{"x":{"field":"t","type":"quantitative","axis":null},"y":{"field":"v","type":"quantitative","axis":null},"text":{"field":"l"}}},
{"data":{"values":[{"l":"+","t":2.627,"v":1.148}]},"mark":{"type":"text","align":"center","baseline":"middle","fontSize":15,"fontWeight":"bold","font":"Liberation Sans","color":"#ffffff"},
"encoding":{"x":{"field":"t","type":"quantitative","axis":null},"y":{"field":"v","type":"quantitative","axis":null},"text":{"field":"l"}}}
]}
]}
